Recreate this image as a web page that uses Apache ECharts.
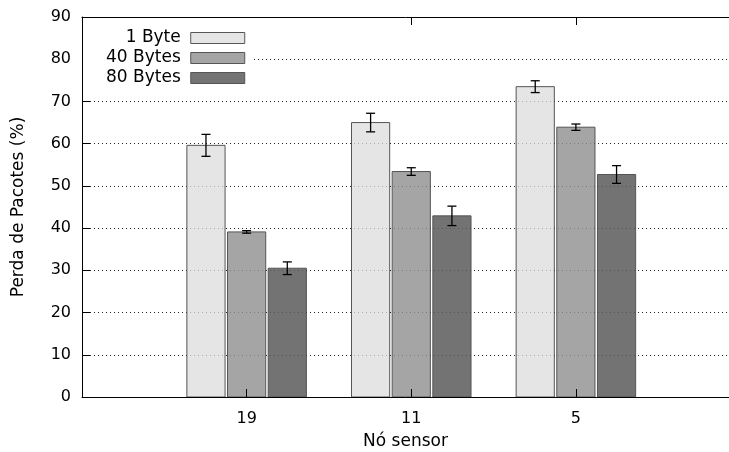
<!DOCTYPE html>
<html>
<head>
    <meta charset="utf-8" />
    <title>Perda de Pacotes</title>
    <script src="https://cdn.jsdelivr.net/npm/echarts@6/dist/echarts.min.js"></script>
    <style>
        html, body { margin: 0; padding: 0; background: #fff; overflow: hidden; }
        #main { width: 729px; height: 452px; }
    </style>
</head>
<body>
    <div id="main"></div>
    <script type="text/javascript">
        // dados
        var nodes = ['19', '11', '5'];
        var names = ['1 Byte', '40 Bytes', '80 Bytes'];
        var byte1 = [59.6, 65.0, 73.5];
        var byte1Err = [2.6, 2.2, 1.4];
        var bytes40 = [39.1, 53.4, 63.9];
        var bytes40Err = [0.3, 0.9, 0.75];
        var bytes80 = [30.5, 42.9, 52.7];
        var bytes80Err = [1.5, 2.3, 2.1];
        var yTicks = [0, 10, 20, 30, 40, 50, 60, 70, 80, 90];

        var colors = ['#e5e5e5', '#a5a5a5', '#737373'];
        var offsets = [-0.247, 0, 0.247];
        var barW = 0.232;
        var xMax = 2.93;   // o quadro continua para la da borda da imagem
        var font = 'DejaVu Sans';

        function makeData(vals, errs) {
            var d = [];
            for (var i = 0; i < vals.length; i++) {
                d.push([i, vals[i], errs[i]]);
            }
            return d;
        }

        function makeSeries(idx, vals, errs) {
            return {
                name: names[idx],
                type: 'custom',
                itemStyle: { color: colors[idx] },
                data: makeData(vals, errs),
                z: 2,
                renderItem: function (params, api) {
                    var x = api.value(0) + offsets[idx];
                    var v = api.value(1);
                    var e = api.value(2);
                    var top = api.coord([x, v]);
                    var base = api.coord([x, 0]);
                    var w = api.size([barW, 0])[0];
                    var hi = api.coord([x, v + e]);
                    var lo = api.coord([x, v - e]);
                    var cap = 4.5;
                    return {
                        type: 'group',
                        children: [
                            {
                                type: 'rect',
                                shape: { x: top[0] - w / 2, y: top[1], width: w, height: base[1] - top[1] },
                                style: { fill: colors[idx], stroke: '#555', lineWidth: 1 }
                            },
                            {
                                type: 'line',
                                shape: { x1: hi[0], y1: hi[1], x2: lo[0], y2: lo[1] },
                                style: { stroke: '#000', lineWidth: 1.3 }
                            },
                            {
                                type: 'line',
                                shape: { x1: hi[0] - cap, y1: hi[1], x2: hi[0] + cap, y2: hi[1] },
                                style: { stroke: '#000', lineWidth: 1.3 }
                            },
                            {
                                type: 'line',
                                shape: { x1: lo[0] - cap, y1: lo[1], x2: lo[0] + cap, y2: lo[1] },
                                style: { stroke: '#000', lineWidth: 1.3 }
                            }
                        ]
                    };
                }
            };
        }

        var myChart = echarts.init(document.getElementById('main'));
        myChart.setOption({
            animation: false,
            textStyle: { fontFamily: font },
            grid: {
                left: 82, right: 0, top: 17, bottom: 55,
                outerBoundsMode: 'none'
            },
            legend: {
                orient: 'vertical',
                left: 83,
                top: 18,
                align: 'right',
                padding: [10, 8, 8, 23],
                itemGap: 0,
                itemWidth: 54,
                itemHeight: 11,
                backgroundColor: '#fff',
                z: 10,
                textStyle: { fontFamily: font, fontSize: 17, color: '#000', lineHeight: 20, padding: [0, 5, 0, 0] },
                data: names.map(function (n, i) {
                    return { name: n, icon: 'rect', itemStyle: { color: colors[i], borderColor: '#555', borderWidth: 1 } };
                })
            },
            xAxis: [
                {
                    type: 'value',
                    min: -1,
                    max: xMax,
                    interval: 1,
                    z: 5,
                    name: 'Nó sensor',
                    nameLocation: 'middle',
                    nameGap: 36,
                    nameTextStyle: { fontFamily: font, fontSize: 17, color: '#000' },
                    axisLine: { show: true, onZero: false, lineStyle: { color: '#000' } },
                    axisTick: { show: true, inside: true, length: 8, lineStyle: { color: '#000' } },
                    axisLabel: {
                        fontFamily: font, fontSize: 16, color: '#000', margin: 14,
                        formatter: function (v) {
                            var k = Math.round(v);
                            if (Math.abs(v - k) > 0.001 || k < 0 || k >= nodes.length) return '';
                            return nodes[k];
                        }
                    },
                    splitLine: { show: false }
                },
                {
                    type: 'value',
                    position: 'top',
                    min: -1,
                    max: xMax,
                    interval: 1,
                    z: 5,
                    axisLine: { show: true, onZero: false, lineStyle: { color: '#000' } },
                    axisTick: { show: true, inside: true, length: 8, lineStyle: { color: '#000' } },
                    axisLabel: { show: false },
                    splitLine: { show: false }
                }
            ],
            yAxis: [
                {
                    type: 'value',
                    position: 'left',
                    min: yTicks[0],
                    max: yTicks[yTicks.length - 1],
                    interval: 10,
                    z: 0,
                    name: 'Perda de Pacotes (%)',
                    nameLocation: 'middle',
                    nameGap: 55,
                    nameTextStyle: { fontFamily: font, fontSize: 17, color: '#000' },
                    axisLine: { show: true, onZero: false, lineStyle: { color: '#000' } },
                    axisTick: { show: true, inside: true, length: 8, lineStyle: { color: '#000' } },
                    axisLabel: { fontFamily: font, fontSize: 16, color: '#000', margin: 11 },
                    splitLine: { show: true, lineStyle: { color: '#333', type: [1, 3], width: 1 } }
                },
                {
                    // grade clara por cima das barras
                    type: 'value',
                    position: 'right',
                    min: yTicks[0],
                    max: yTicks[yTicks.length - 1],
                    interval: 10,
                    z: 5,
                    axisLine: { show: false, onZero: false },
                    axisTick: { show: false },
                    axisLabel: { show: false },
                    splitLine: { show: true, lineStyle: { color: 'rgba(0,0,0,0.25)', type: [1, 3], width: 1 } }
                }
            ],
            series: [
                makeSeries(0, byte1, byte1Err),
                makeSeries(1, bytes40, bytes40Err),
                makeSeries(2, bytes80, bytes80Err)
            ]
        });
    </script>
</body>
</html>
